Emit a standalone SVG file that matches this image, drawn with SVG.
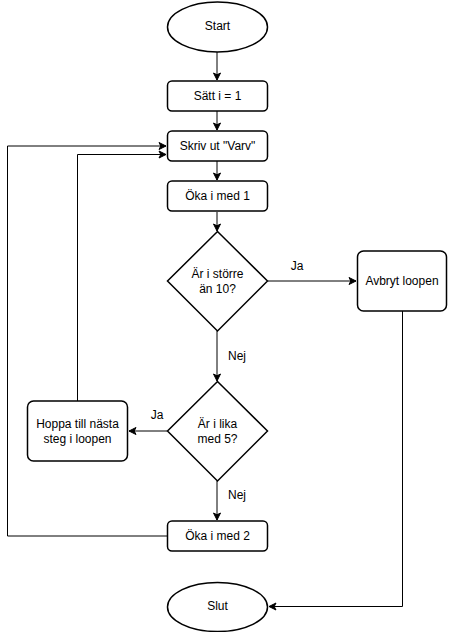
<svg xmlns="http://www.w3.org/2000/svg" width="449" height="632" viewBox="0 0 449 632">
<style>
.n{fill:#fff;stroke:#000;stroke-width:1.5}
.t{font-family:"Liberation Sans",Arial,sans-serif;font-size:12px;fill:#000;text-anchor:middle;dominant-baseline:central}
.c{fill:none;stroke:#000;stroke-width:1;marker-end:url(#a)}
</style>
<defs>
<marker id="a" markerWidth="10" markerHeight="10" viewBox="0 0 10 10" refX="8" refY="5" orient="auto" markerUnits="userSpaceOnUse">
<path d="M1,1.5 L8,5 L1,8.5 L2.8,5 Z" fill="#000" stroke="#000" stroke-width="1"/>
</marker>
</defs>
<rect width="449" height="632" fill="#fff"/>
<g id="connectors">
<path class="c" d="M217,52 V80"/>
<path class="c" d="M217,111 V130"/>
<path class="c" d="M217,161 V180"/>
<path class="c" d="M217,212 V231"/>
<path class="c" d="M268,281 H356"/>
<path class="c" d="M217,331 V381"/>
<path class="c" d="M167,431 H129"/>
<path class="c" d="M217,481 V520"/>
<path class="c" d="M167,536 H7.5 V146 H166"/>
<path class="c" d="M77.5,401 V154.5 H166"/>
<path class="c" d="M402.5,311 V606.5 H269"/>
</g>
<g id="start"><ellipse class="n" cx="217.5" cy="27" rx="50" ry="25"/><text class="t" x="217.5" y="26">Start</text></g>
<g id="satt"><rect class="n" x="167.5" y="81" width="100" height="30" rx="4.5"/><text class="t" x="217.5" y="96">Sätt i = 1</text></g>
<g id="skriv"><rect class="n" x="167.5" y="131" width="100" height="30" rx="4.5"/><text class="t" x="217.5" y="146">Skriv ut "Varv"</text></g>
<g id="oka1"><rect class="n" x="167.5" y="181" width="100" height="30" rx="4.5"/><text class="t" x="217.5" y="196">Öka i med 1</text></g>
<g id="dec1"><path class="n" d="M217.5,231.5 L267.5,281 L217.5,331 L167.5,281 Z"/><text class="t" x="217.5" y="274">Är i större</text><text class="t" x="217.5" y="289">än 10?</text></g>
<g id="avbryt"><rect class="n" x="357.5" y="251" width="89" height="60" rx="6"/><text class="t" x="402" y="281">Avbryt loopen</text></g>
<g id="dec2"><path class="n" d="M217.5,381.5 L267.5,431 L217.5,481 L167.5,431 Z"/><text class="t" x="217.5" y="424">Är i lika</text><text class="t" x="217.5" y="439">med 5?</text></g>
<g id="hoppa"><rect class="n" x="27.5" y="401" width="100" height="60" rx="6"/><text class="t" x="77.5" y="424">Hoppa till nästa</text><text class="t" x="77.5" y="439">steg i loopen</text></g>
<g id="oka2"><rect class="n" x="167.5" y="521" width="100" height="30" rx="4.5"/><text class="t" x="217.5" y="536">Öka i med 2</text></g>
<g id="slut"><ellipse class="n" cx="217.5" cy="607" rx="50" ry="24.5"/><text class="t" x="217.5" y="606">Slut</text></g>
<g id="labels">
<text class="t" x="297" y="266">Ja</text>
<text class="t" x="237" y="356">Nej</text>
<text class="t" x="157" y="415">Ja</text>
<text class="t" x="237" y="495">Nej</text>
</g>
</svg>
